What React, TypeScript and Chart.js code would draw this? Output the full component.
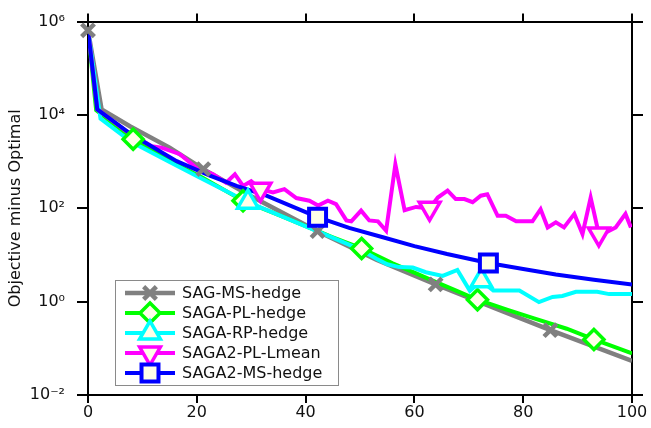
import React, { useEffect, useRef } from 'react';
import { Chart, registerables, PointElement } from 'chart.js';

Chart.register(...registerables);

// ---------- data ----------
const grayX = [0, 2.5, 7.7, 15.0, 21.2, 30, 42.2, 53, 63.9, 75, 85, 100];
const grayY = [6.5e5, 1.32e4, 5750, 2000, 692, 182, 32.4, 7.94, 2.34, 0.708, 0.245, 0.0537];
const grayMarks = [0, 4, 6, 8, 10];

const greenX = [0, 1.5, 8.3, 15, 21, 28.5, 35, 40, 45, 50.3, 56, 60, 64, 68, 71.6, 77, 82, 88, 93, 100];
const greenY = [6.5e5, 1.26e4, 3020, 1047, 457, 145, 72.4, 41.7, 24.0, 13.8, 6.61, 4.17, 2.63, 1.66, 1.10, 0.676, 0.437, 0.263, 0.155, 0.0776];
const greenMarks = [2, 5, 9, 14, 18];

const cyanX = [0, 2.3, 8, 15, 20.5, 29.4, 36, 44.4, 50, 53, 55, 57.2, 59.7, 62.1, 65.2, 67.9, 70.2, 72.3, 74.5, 79.3, 82.9, 85.4, 87.2, 89.7, 93.6, 95.8, 100];
const cyanY = [6.5e5, 8318, 2630, 977, 457, 135, 64.6, 25.1, 13.2, 8.32, 6.31, 5.50, 5.37, 4.27, 3.55, 4.79, 1.70, 2.82, 1.74, 1.74, 0.977, 1.26, 1.32, 1.62, 1.62, 1.45, 1.45];
const cyanMarks = [5, 17];

const pinkX = [0, 1.7, 7.1, 11.7, 13.5, 16.9, 19.9, 23.0, 25.4, 27.0, 28.5, 30.0, 31.7, 34.0, 36.1, 38.3, 40.7, 42.3, 44.1, 45.6, 47.5, 48.4, 50.2, 51.7, 53.3, 54.8, 56.5, 58.2, 60.3, 62.8, 64.3, 66.1, 67.6, 69.2, 70.7, 72.2, 73.4, 75.3, 76.8, 78.7, 81.7, 83.2, 84.5, 86.0, 87.5, 89.4, 90.9, 92.4, 93.9, 95.5, 97.0, 98.8, 99.8];
const pinkY = [6.5e5, 1.32e4, 4467, 2138, 1995, 1445, 741, 537, 355, 537, 302, 380, 257, 219, 257, 166, 145, 115, 145, 123, 55.0, 52.5, 89.1, 55.0, 52.5, 33.1, 871, 91.2, 107, 100, 170, 240, 158, 158, 135, 186, 200, 69.2, 69.2, 52.5, 52.5, 95.5, 38.9, 50.1, 38.9, 75.9, 28.2, 170, 28.2, 31.6, 38.9, 75.9, 38.9];
const pinkMarks = [12, 29, 48];

const blueX = [0, 1.7, 8, 16.3, 22.4, 27.3, 32.8, 42.2, 48, 54.2, 60, 66, 73.6, 80, 86, 93, 100];
const blueY = [6.5e5, 1.32e4, 3800, 1023, 501, 302, 186, 64.6, 38.0, 24.0, 15.5, 10.5, 6.76, 5.01, 3.80, 2.95, 2.34];
const blueMarks = [7, 12];

const seriesNames = ['SAG-MS-hedge', 'SAGA-PL-hedge', 'SAGA-RP-hedge', 'SAGA2-PL-Lmean', 'SAGA2-MS-hedge'];
const xTicks = [0, 20, 40, 60, 80, 100];
const yTicks = [1e-2, 1e0, 1e2, 1e4, 1e6];
const yTickLabels = ['10\u207B\u00B2', '10\u2070', '10\u00B2', '10\u2074', '10\u2076'];
const yTitle = 'Objective minus Optimal';

// ---------- styles ----------
const FONT = '"DejaVu Sans", sans-serif';
const FILL = '#FFFFE8';
const styles = [
  { color: '#808080', lw: 4.5, style: 'crossRot', r: 9, rot: 0, bw: 4.5 },
  { color: '#00FF00', lw: 4, style: 'rectRot', r: 10, rot: 0, bw: 3.5 },
  { color: '#00FFFF', lw: 4, style: 'triangle', r: 12, rot: 0, bw: 3.5 },
  { color: '#FF00FF', lw: 4, style: 'triangle', r: 12, rot: 180, bw: 3.5 },
  { color: '#0000FF', lw: 4, style: 'rect', r: 12, rot: 0, bw: 4 },
];
const seriesData = [
  [grayX, grayY, grayMarks],
  [greenX, greenY, greenMarks],
  [cyanX, cyanY, cyanMarks],
  [pinkX, pinkY, pinkMarks],
  [blueX, blueY, blueMarks],
];

const boxLegend = {
  id: 'boxLegend',
  afterDraw(chart: any) {
    const ctx = chart.ctx;
    const ca = chart.chartArea;
    const left = ca.left + 27;
    const w = 223;
    const h = 105;
    const top = ca.bottom - 10 - h;
    ctx.save();
    ctx.fillStyle = '#ffffff';
    ctx.fillRect(left, top, w, h);
    ctx.strokeStyle = '#8a8a8a';
    ctx.lineWidth = 1;
    ctx.strokeRect(left + 0.5, top + 0.5, w, h);
    styles.forEach((s, i) => {
      const y = top + 13 + i * 20;
      ctx.strokeStyle = s.color;
      ctx.lineWidth = s.lw;
      ctx.beginPath();
      ctx.moveTo(left + 10, y);
      ctx.lineTo(left + 60, y);
      ctx.stroke();
      const pt: any = new (PointElement as any)({
        x: left + 35,
        y,
        skip: false,
        options: {
          pointStyle: s.style,
          radius: s.r,
          rotation: s.rot,
          borderWidth: s.bw,
          borderColor: s.color,
          backgroundColor: FILL,
        },
      });
      pt.draw(ctx);
      ctx.fillStyle = '#111';
      ctx.font = '16px ' + FONT;
      ctx.textBaseline = 'middle';
      ctx.textAlign = 'left';
      ctx.fillText(seriesNames[i], left + 67, y + 1);
    });
    ctx.restore();
  },
};

export default function App() {
  const ref = useRef<HTMLCanvasElement>(null);
  useEffect(() => {
    if (!ref.current) return;
    Chart.defaults.font.family = FONT;
    const lineSets = seriesData.map(([xs, ys], i) => ({
      label: seriesNames[i],
      data: (xs as number[]).map((x, j) => ({ x, y: (ys as number[])[j] })),
      borderColor: styles[i].color,
      borderWidth: styles[i].lw,
      pointRadius: 0,
      tension: 0,
      fill: false,
      xAxisID: 'x',
      yAxisID: 'y',
      order: 20 - i,
    }));
    const markSets = seriesData.map(([xs, ys, ms], i) => ({
      label: seriesNames[i] + ' markers',
      data: (ms as number[]).map((k) => ({ x: (xs as number[])[k], y: (ys as number[])[k] })),
      showLine: false,
      pointStyle: styles[i].style,
      pointRadius: styles[i].r,
      pointRotation: styles[i].rot,
      pointBorderWidth: styles[i].bw,
      pointBorderColor: styles[i].color,
      pointBackgroundColor: FILL,
      clip: false,
      xAxisID: 'x',
      yAxisID: 'y',
      order: 10 - i,
    }));
    const tickGrid = (len: number) => ({
      drawOnChartArea: false,
      drawTicks: true,
      color: '#000',
      lineWidth: 2,
      tickLength: len,
    });
    const border = { display: true, color: '#000', width: 2 };
    const chart = new Chart(ref.current, {
      type: 'line',
      data: { datasets: [...lineSets, ...markSets] as any },
      options: {
        animation: false,
        responsive: false,
        events: [],
        layout: { padding: 0 },
        plugins: { legend: { display: false }, tooltip: { enabled: false } },
        scales: {
          x: {
            type: 'linear',
            position: 'bottom',
            min: 0,
            max: 100,
            afterBuildTicks: (s: any) => { s.ticks = xTicks.map((v) => ({ value: v })); },
            afterFit: (s: any) => { s.height = 33; },
            ticks: { color: '#111', font: { size: 16, family: FONT }, padding: 0, maxRotation: 0, autoSkip: false, callback: (v: any) => String(v) },
            grid: tickGrid(8),
            border,
          },
          x2: {
            type: 'linear',
            position: 'top',
            min: 0,
            max: 100,
            afterBuildTicks: (s: any) => { s.ticks = xTicks.map((v) => ({ value: v })); },
            afterFit: (s: any) => { s.height = 20; },
            ticks: { display: false },
            grid: tickGrid(8),
            border,
          },
          y: {
            type: 'logarithmic',
            position: 'left',
            min: 1e-2,
            max: 1e6,
            afterBuildTicks: (s: any) => { s.ticks = yTicks.map((v) => ({ value: v })); },
            afterFit: (s: any) => { s.width = 88; },
            ticks: {
              color: '#111',
              font: { size: 16, family: FONT },
              padding: 12,
              autoSkip: false,
              callback: (v: any) => yTickLabels[yTicks.findIndex((t) => Math.abs(Math.log10(t) - Math.log10(v)) < 1e-6)],
            },
            title: { display: true, text: yTitle, color: '#111', font: { size: 16, family: FONT }, padding: { top: 6, bottom: 0 } },
            grid: tickGrid(11),
            border,
          },
          y2: {
            type: 'logarithmic',
            position: 'right',
            min: 1e-2,
            max: 1e6,
            afterBuildTicks: (s: any) => { s.ticks = yTicks.map((v) => ({ value: v })); },
            afterFit: (s: any) => { s.width = 19; },
            ticks: { display: false },
            grid: tickGrid(11),
            border,
          },
        },
      } as any,
      plugins: [boxLegend],
    });
    return () => chart.destroy();
  }, []);
  return (
    <div style={{ position: 'absolute', left: 0, top: 0, width: 651, height: 428, background: '#fff' }}>
      <canvas ref={ref} width={651} height={428} />
    </div>
  );
}
